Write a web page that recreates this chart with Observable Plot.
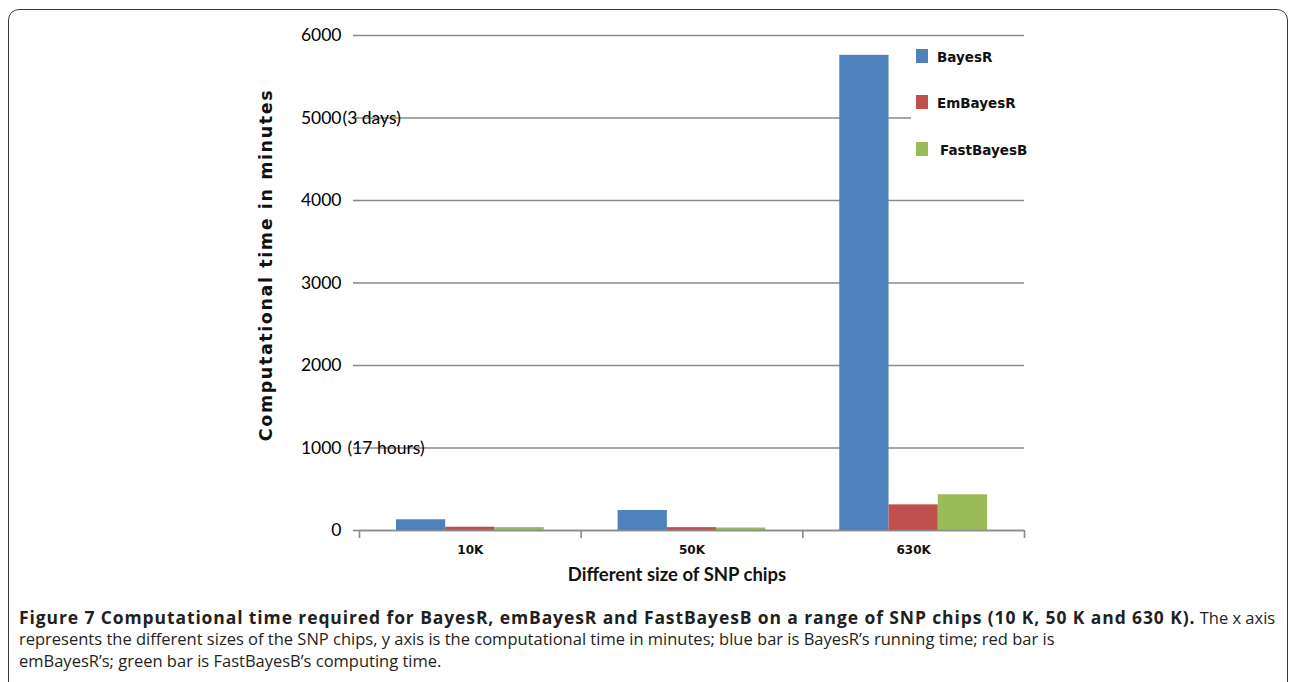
<!DOCTYPE html>
<html><head><meta charset="utf-8">
<script src="https://cdn.jsdelivr.net/npm/d3@7"></script>
<script src="https://cdn.jsdelivr.net/npm/@observablehq/plot@0.6"></script>
<style>
body{margin:0;background:#fff;width:1292px;height:682px;overflow:hidden;position:relative;font-family:Lato,sans-serif}
#frame{position:absolute;left:8px;top:9px;width:1280px;height:740px;border:1.5px solid #3a3a3a;border-radius:11px;box-sizing:border-box}
#chart{position:absolute;left:0;top:0}
#legend{position:absolute;left:911px;top:40px;width:132px;height:150px;background:#fff}
.sw{position:absolute;width:12px;height:14px}
.lb{position:absolute;font-family:"DejaVu Sans";font-weight:bold;font-size:13.5px;color:#111;line-height:16px}
#caption{position:absolute;left:19px;top:606px;font-family:"Open Sans";font-size:16.5px;line-height:22px;color:#231f20;white-space:nowrap}
#caption div{height:22px}
#cb{font-size:17.5px}
</style></head>
<body>
<div id="frame"></div>
<div id="chart"></div>
<div id="legend"></div>
<div id="caption">
<div id="l1"><b id="cb">Figure 7 Computational time required for BayesR, emBayesR and FastBayesB on a range of SNP chips (10 K, 50 K and 630 K).</b> The x axis</div>
<div>represents the different sizes of the SNP chips, y axis is the computational time in minutes; blue bar is BayesR’s running time; red bar is</div>
<div>emBayesR’s; green bar is FastBayesB’s computing time.</div>
</div>
<script>
const categories = ["10K", "50K", "630K"];
const series = ["BayesR", "EmBayesR", "FastBayesB"];
const bayesR = [130, 242, 5760];
const emBayesR = [40, 35, 311];
const fastBayesB = [35, 30, 433];
const colors = ["#4F81BD", "#C0504D", "#9BBB59"];
const yTicks = [0, 1000, 2000, 3000, 4000, 5000, 6000];
const yNotes = [{v: 5000, t: "(3 days)"}, {v: 1000, t: "(17 hours)"}];
const yTitle = "Computational time in minutes";
const xTitle = "Different size of SNP chips";

const valuesBySeries = [bayesR, emBayesR, fastBayesB];
const table = [];
categories.forEach((c, i) => series.forEach((s, j) => {
  table.push({cat: c, series: s, value: valuesBySeries[j][i], i, j});
}));
const catTable = categories.map((c, i) => ({cat: c, i}));

const grid = "#8a8a8a";
const chart = Plot.plot({
  width: 1292, height: 600,
  marginLeft: 359, marginRight: 268, marginTop: 35, marginBottom: 70,
  x: {type: "linear", domain: [0, categories.length], axis: null},
  y: {domain: [0, 6000], axis: null},
  color: {domain: series, range: colors},
  style: {fontFamily: "Lato", background: "transparent"},
  marks: [
    Plot.gridY(yTicks, {stroke: grid, strokeOpacity: 1, strokeWidth: 1.6}),
    Plot.axisY({ticks: yTicks, tickSize: 6, tickPadding: 12, stroke: grid, strokeWidth: 1.6, fill: "#000", fontSize: 17.5, fontFamily: "Lato", tickFormat: d => String(d), line: true}),
    Plot.rectY(table, {
      x1: d => d.i + 1/6 + d.j * 2/9,
      x2: d => d.i + 1/6 + (d.j + 1) * 2/9,
      y1: 0, y2: "value", fill: "series"
    }),
    Plot.ruleY([0], {stroke: grid, strokeWidth: 1.6}),
    Plot.axisX({ticks: d3.range(categories.length + 1), tickSize: 8, tickFormat: () => "", stroke: grid, strokeWidth: 1.6}),
    Plot.text(catTable, {x: d => d.i + 0.5, frameAnchor: "bottom", dy: 23, text: "cat", fontFamily: "DejaVu Sans", fontWeight: "bold", fontSize: 12, fill: "#111"}),
    Plot.text([yNotes[0]], {y: "v", frameAnchor: "left", dx: -17, text: "t", textAnchor: "start", fontFamily: "Lato", fontSize: 17.5, fill: "#000"}),
    Plot.text([yNotes[1]], {y: "v", frameAnchor: "left", dx: -12, text: "t", textAnchor: "start", fontFamily: "Lato", fontSize: 17.5, fill: "#000"}),
    Plot.text([xTitle], {frameAnchor: "bottom", dx: -15, dy: 50, text: d => d, fontFamily: "Lato", fontWeight: "bold", fontSize: 18.5, fill: "#111"}),
    Plot.text([yTitle], {frameAnchor: "left", textAnchor: "middle", rotate: -90, dx: -93, dy: -18, text: d => d, fontFamily: "DejaVu Sans", fontWeight: "bold", fontSize: 17.5, fill: "#111"})
  ]
});
d3.select(chart).selectAll("text").filter(function() { return this.textContent === yTitle; })
  .attr("letter-spacing", 1.6);
document.getElementById("chart").appendChild(chart);

const legend = document.getElementById("legend");
const rowTops = [9, 55, 102];
series.forEach((s, j) => {
  const sw = document.createElement("div");
  sw.className = "sw";
  sw.style.left = "5px";
  sw.style.top = rowTops[j] + "px";
  sw.style.background = colors[j];
  legend.appendChild(sw);
  const lb = document.createElement("div");
  lb.className = "lb";
  lb.style.left = (j === 2 ? 29 : 26) + "px";
  lb.style.top = rowTops[j] + "px";
  lb.textContent = s;
  legend.appendChild(lb);
});

// widen the bold caption lead slightly so the first line ends near the right border, as in the reference
const l1 = document.getElementById("l1"), cb = document.getElementById("cb");
const extra = 1256 - l1.scrollWidth;
if (extra > 0) cb.style.letterSpacing = (extra / cb.textContent.length) + "px";
</script>
</body></html>
